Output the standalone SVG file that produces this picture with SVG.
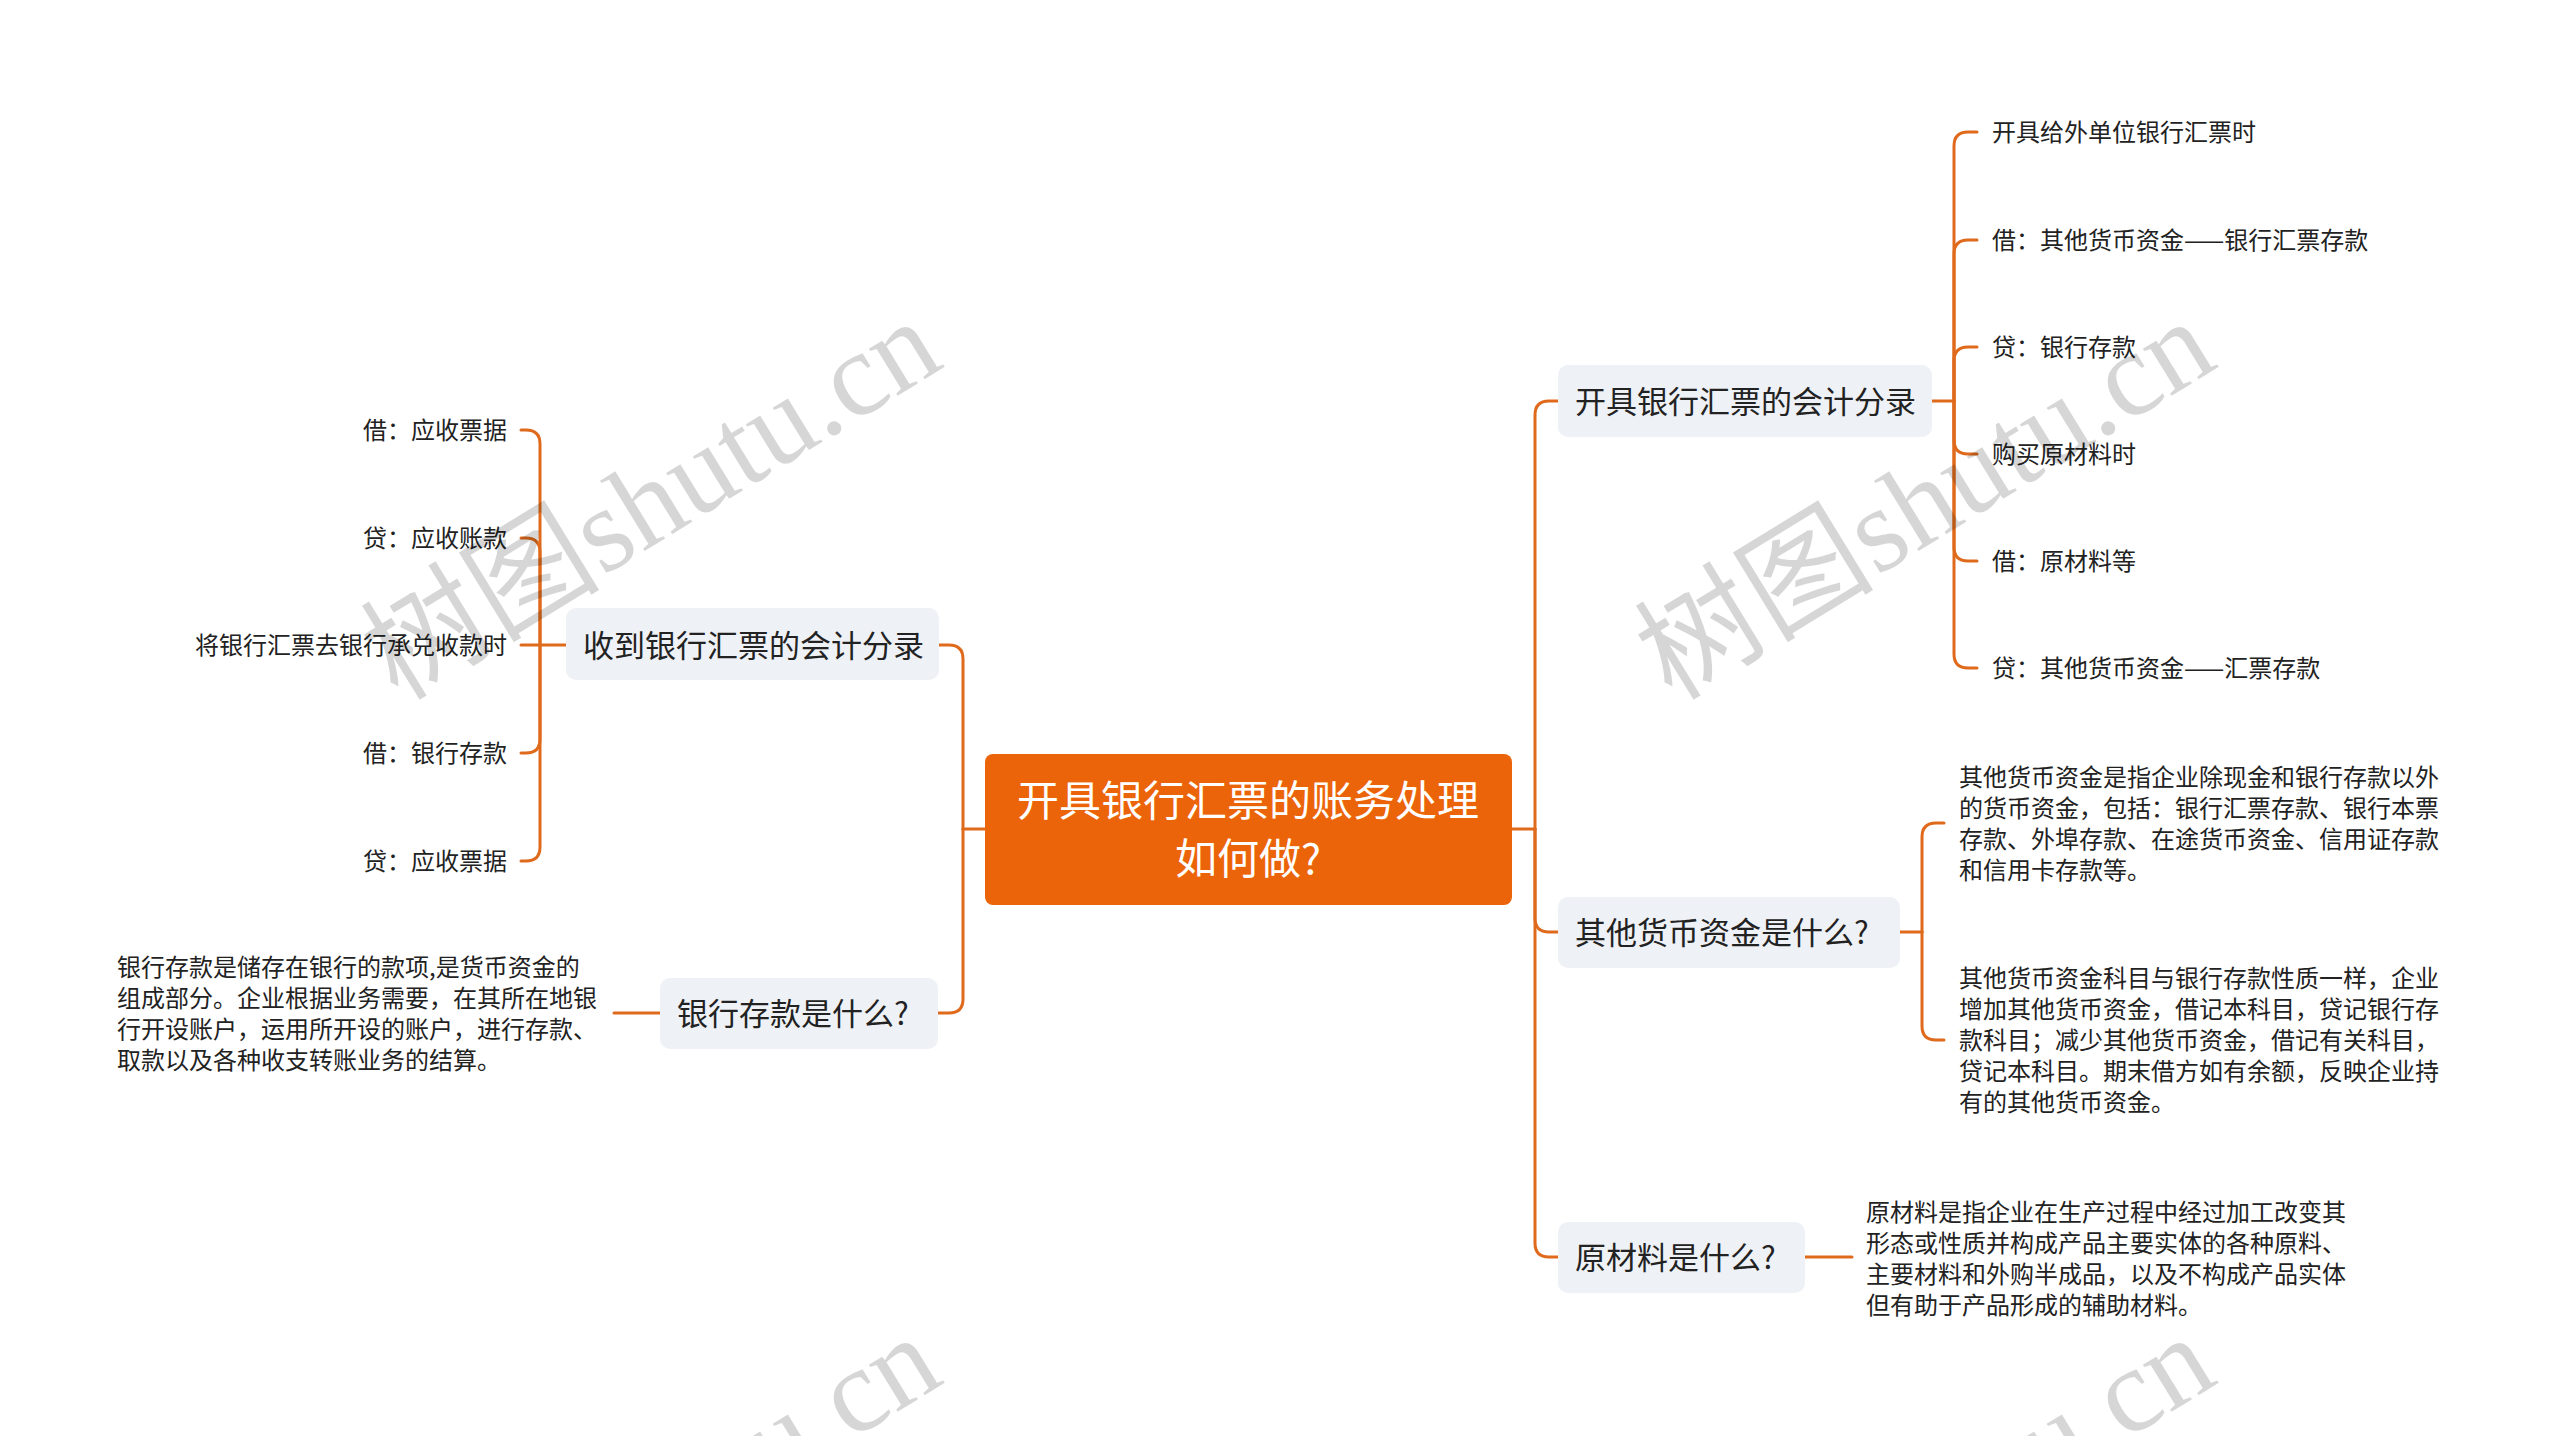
<svg xmlns="http://www.w3.org/2000/svg" width="2560" height="1436" viewBox="0 0 2560 1436">
<style>
.bg{fill:#ffffff}
.conn path{fill:none;stroke:#DF6A1C;stroke-width:3;stroke-linecap:round}
.root rect{fill:#EC6409}
.root text{fill:#ffffff;font-family:"Noto Sans CJK SC","Noto Sans",sans-serif;font-size:42px;text-anchor:middle}
.l1 rect{fill:#EEF1F5}
.l1 text{fill:#222222;font-family:"Noto Sans CJK SC","Noto Sans",sans-serif;font-size:31px}
.leaf text{fill:#222222;font-family:"Noto Sans CJK SC","Noto Sans",sans-serif;font-size:24px}
.leafL text{text-anchor:end}
.wm{fill:#000000;fill-opacity:0.16;font-family:"Liberation Serif","Noto Sans CJK SC",serif;font-size:120px}
</style>
<rect class="bg" x="0" y="0" width="2560" height="1436"/>

<g class="conn" id="connectors">
  <!-- root to left trunk -->
  <path d="M985,829 H963"/>
  <path d="M963,829 V659 Q963,645 949,645 H939"/>
  <path d="M963,829 V999 Q963,1013 949,1013 H938"/>
  <!-- root to right trunk -->
  <path d="M1512,829 H1535"/>
  <path d="M1535,829 V415 Q1535,401 1549,401 H1558"/>
  <path d="M1535,829 V918 Q1535,932 1549,932 H1558"/>
  <path d="M1535,829 V1243 Q1535,1257 1549,1257 H1558"/>
  <!-- 收到 children -->
  <path d="M566,645 H540 V444 Q540,430 526,430 H521"/>
  <path d="M540,645 V552 Q540,538 526,538 H521"/>
  <path d="M540,645 H521"/>
  <path d="M540,645 V739 Q540,753 526,753 H521"/>
  <path d="M540,645 V847 Q540,861 526,861 H521"/>
  <!-- 银行存款 child -->
  <path d="M660,1013 H614"/>
  <!-- 开具 children -->
  <path d="M1932,401 H1954"/>
  <path d="M1954,401 V146 Q1954,132 1968,132 H1977"/>
  <path d="M1954,401 V254 Q1954,240 1968,240 H1977"/>
  <path d="M1954,401 V361 Q1954,347 1968,347 H1977"/>
  <path d="M1954,401 V440 Q1954,454 1968,454 H1977"/>
  <path d="M1954,401 V547 Q1954,561 1968,561 H1977"/>
  <path d="M1954,401 V654 Q1954,668 1968,668 H1977"/>
  <!-- 其他 children -->
  <path d="M1900,932 H1922"/>
  <path d="M1922,932 V837 Q1922,823 1936,823 H1944"/>
  <path d="M1922,932 V1026 Q1922,1040 1936,1040 H1944"/>
  <!-- 原材料 child -->
  <path d="M1805,1257 H1852"/>
</g>

<g id="root" class="root">
  <rect x="985" y="754" width="527" height="151" rx="8"/>
  <text x="1248" y="816">开具银行汇票的账务处理</text>
  <text x="1248" y="874">如何做?</text>
</g>

<g id="n-shoudao" class="l1">
  <rect x="566" y="608" width="373" height="72" rx="10"/>
  <text x="583" y="657">收到银行汇票的会计分录</text>
</g>
<g id="n-yinhangcunkuan" class="l1">
  <rect x="660" y="978" width="278" height="71" rx="10"/>
  <text x="677" y="1025">银行存款是什么?</text>
</g>
<g id="n-kaiju" class="l1">
  <rect x="1558" y="365" width="374" height="72" rx="10"/>
  <text x="1575" y="413">开具银行汇票的会计分录</text>
</g>
<g id="n-qita" class="l1">
  <rect x="1558" y="897" width="342" height="71" rx="10"/>
  <text x="1575" y="944">其他货币资金是什么?</text>
</g>
<g id="n-yuancailiao" class="l1">
  <rect x="1558" y="1222" width="247" height="71" rx="10"/>
  <text x="1575" y="1269">原材料是什么?</text>
</g>

<g id="leaves-left" class="leaf leafL">
  <g id="l-1"><text x="507" y="439">借：应收票据</text></g>
  <g id="l-2"><text x="507" y="547">贷：应收账款</text></g>
  <g id="l-3"><text x="507" y="654">将银行汇票去银行承兑收款时</text></g>
  <g id="l-4"><text x="507" y="762">借：银行存款</text></g>
  <g id="l-5"><text x="507" y="870">贷：应收票据</text></g>
</g>

<g id="leaf-yinhang" class="leaf">
  <text x="117" y="976">银行存款是储存在银行的款项,是货币资金的</text>
  <text x="117" y="1007">组成部分。企业根据业务需要，在其所在地银</text>
  <text x="117" y="1038">行开设账户，运用所开设的账户，进行存款、</text>
  <text x="117" y="1069">取款以及各种收支转账业务的结算。</text>
</g>

<g id="leaves-kaiju" class="leaf">
  <g id="r-1"><text x="1992" y="141">开具给外单位银行汇票时</text></g>
  <g id="r-2"><text x="1992" y="249">借：其他货币资金——银行汇票存款</text></g>
  <g id="r-3"><text x="1992" y="356">贷：银行存款</text></g>
  <g id="r-4"><text x="1992" y="463">购买原材料时</text></g>
  <g id="r-5"><text x="1992" y="570">借：原材料等</text></g>
  <g id="r-6"><text x="1992" y="677">贷：其他货币资金——汇票存款</text></g>
</g>

<g id="leaf-qita-1" class="leaf">
  <text x="1959" y="786">其他货币资金是指企业除现金和银行存款以外</text>
  <text x="1959" y="817">的货币资金，包括：银行汇票存款、银行本票</text>
  <text x="1959" y="848">存款、外埠存款、在途货币资金、信用证存款</text>
  <text x="1959" y="879">和信用卡存款等。</text>
</g>
<g id="leaf-qita-2" class="leaf">
  <text x="1959" y="987">其他货币资金科目与银行存款性质一样，企业</text>
  <text x="1959" y="1018">增加其他货币资金，借记本科目，贷记银行存</text>
  <text x="1959" y="1049">款科目；减少其他货币资金，借记有关科目，</text>
  <text x="1959" y="1080">贷记本科目。期末借方如有余额，反映企业持</text>
  <text x="1959" y="1111">有的其他货币资金。</text>
</g>
<g id="leaf-yuancailiao" class="leaf">
  <text x="1866" y="1221">原材料是指企业在生产过程中经过加工改变其</text>
  <text x="1866" y="1252">形态或性质并构成产品主要实体的各种原料、</text>
  <text x="1866" y="1283">主要材料和外购半成品，以及不构成产品实体</text>
  <text x="1866" y="1314">但有助于产品形成的辅助材料。</text>
</g>

<g id="watermarks">
  <text class="wm" transform="translate(398,702) rotate(-31.5)">树图shutu.cn</text>
  <text class="wm" transform="translate(1672,702) rotate(-31.5)">树图shutu.cn</text>
  <text class="wm" transform="translate(398,1718) rotate(-31.5)">树图shutu.cn</text>
  <text class="wm" transform="translate(1672,1718) rotate(-31.5)">树图shutu.cn</text>
</g>
</svg>
